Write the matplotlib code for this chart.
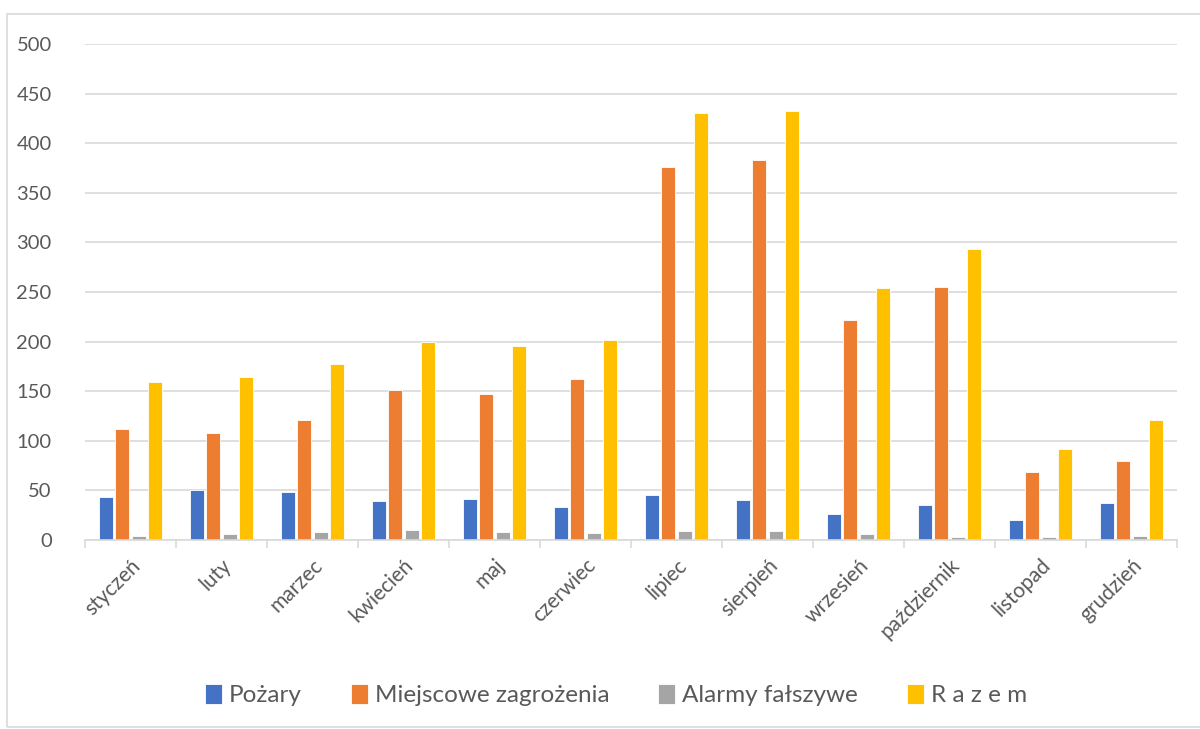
import matplotlib
matplotlib.use("Agg")
import matplotlib.pyplot as plt
from matplotlib.patches import Rectangle
from matplotlib.ticker import FixedLocator
import numpy as np

months = ["styczeń", "luty", "marzec", "kwiecień", "maj", "czerwiec", "lipiec",
          "sierpień", "wrzesień", "październik", "listopad", "grudzień"]
pozary = [43, 50, 48, 39, 41, 33, 45, 40, 26, 35, 20, 37]
miejscowe = [112, 108, 121, 151, 147, 162, 376, 383, 222, 255, 69, 80]
alarmy = [4, 6, 8, 10, 8, 7, 9, 9, 6, 3, 3, 4]
razem = [159, 164, 177, 200, 196, 202, 430, 432, 254, 293, 92, 121]

series = [("Pożary", pozary, "#4472C4"),
          ("Miejscowe zagrożenia", miejscowe, "#ED7D31"),
          ("Alarmy fałszywe", alarmy, "#A5A5A5"),
          ("R a z e m", razem, "#FFC000")]

plt.rcParams['font.family'] = ['Lato', 'DejaVu Sans']

fig = plt.figure(figsize=(12, 7.29), dpi=100)
ax = fig.add_axes([85/1200, 1-540/729, (1177-85)/1200, (540-44)/729])

x = np.arange(len(months))
slot = 0.182
width = 0.155
for i, (name, vals, col) in enumerate(series):
    ax.bar(x + (i - 1.5) * slot, vals, width, color=col, label=name,
           edgecolor='white', linewidth=0.6, zorder=3)

ax.set_xlim(-0.5, len(months) - 0.5)
ax.set_ylim(0, 500)
ax.set_yticks(np.arange(0, 501, 50))
ax.yaxis.grid(True, color='#D9D9D9', linewidth=1.2, zorder=0)
ax.set_axisbelow(True)
for s in ['top', 'right', 'left']:
    ax.spines[s].set_visible(False)
ax.spines['bottom'].set_color('#D9D9D9')
ax.spines['bottom'].set_linewidth(1.2)
ax.spines['bottom'].set_zorder(4)

ax.set_xticks(x)
ax.set_xticklabels(months, rotation=45, ha='right', rotation_mode='anchor',
                   fontsize=15, color='#595959')
ax.tick_params(axis='x', which='major', length=0, pad=11)
ax.xaxis.set_minor_locator(FixedLocator(np.arange(-0.5, len(months), 1)))
ax.tick_params(axis='x', which='minor', length=6, color='#D9D9D9', width=1.2)
ax.tick_params(axis='y', length=0, labelsize=14.5, labelcolor='#595959', pad=24)

leg = fig.legend(loc='center', bbox_to_anchor=(616/1200, 1-695/729), ncol=4,
                 frameon=False, fontsize=17.5, handlelength=0.7, handleheight=0.9,
                 handletextpad=0.3, columnspacing=2.0, labelcolor='#595959')

fig.patches.append(Rectangle((7/1200, 2/729), 1.2, 1-16/729, transform=fig.transFigure,
                             fill=False, edgecolor='#D9D9D9', linewidth=1.2))

fig.savefig("out.png", dpi=100)
